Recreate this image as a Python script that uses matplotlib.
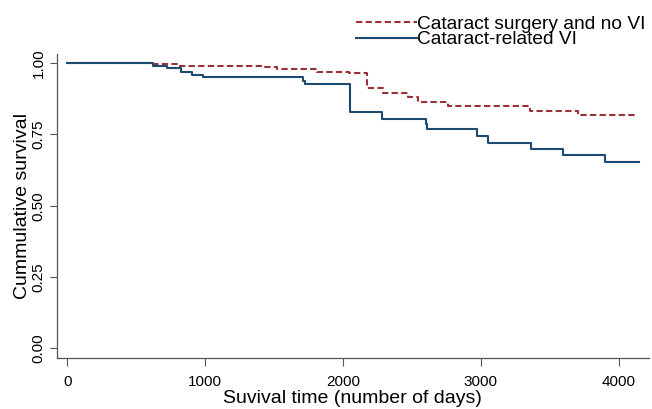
import matplotlib
matplotlib.use("Agg")
import matplotlib.pyplot as plt

# Data (Kaplan-Meier step curves)
t_surgery = [0, 615, 805, 1420, 1518, 1808, 2045, 2171, 2292, 2473, 2545, 2763, 3355, 3706, 4124]
s_surgery = [1.000, 0.997, 0.991, 0.985, 0.978, 0.970, 0.964, 0.912, 0.896, 0.882, 0.865, 0.850, 0.833, 0.817, 0.817]

t_vi = [0, 619, 721, 825, 902, 986, 1711, 1724, 2050, 2284, 2601, 2613, 2969, 3053, 3363, 3593, 3902, 4144]
s_vi = [1.000, 0.991, 0.982, 0.970, 0.959, 0.950, 0.937, 0.926, 0.830, 0.804, 0.786, 0.768, 0.746, 0.721, 0.699, 0.677, 0.652, 0.652]

label_surgery = "Cataract surgery and no VI"
label_vi = "Cataract-related VI"
xticks = [0, 1000, 2000, 3000, 4000]
yticks = [0.00, 0.25, 0.50, 0.75, 1.00]
ytick_labels = ["0.00", "0.25", "0.50", "0.75", "1.00"]

plt.rcParams['font.family'] = ['Liberation Sans', 'DejaVu Sans']

fig = plt.figure(figsize=(6.52, 4.09), dpi=100)
ax = fig.add_axes([0.0867, 0.124, 0.9083, 0.744])

red = "#9a3038"
blue = "#1d4a73"

l1, = ax.step(t_surgery, s_surgery, where='post', color=red, lw=1.5, dashes=(3, 1.6))
l2, = ax.step(t_vi, s_vi, where='post', color=blue, lw=1.5)

ax.set_xlim(-78, 4218)
ax.set_ylim(-0.035, 1.032)
ax.set_xticks(xticks)
ax.set_yticks(yticks)
ax.set_yticklabels(ytick_labels, rotation=90, va='center')
ax.tick_params(axis='x', length=6, width=0.8, color='#555555', labelsize=11, pad=6)
ax.tick_params(axis='y', length=5, width=0.8, color='#555555', labelsize=11, pad=3)
for sp in ['top', 'right']:
    ax.spines[sp].set_visible(False)
for sp in ['left', 'bottom']:
    ax.spines[sp].set_color('#555555')
    ax.spines[sp].set_linewidth(0.9)

ax.set_xlabel("Suvival time (number of days)", fontsize=14, labelpad=1)
ax.set_ylabel("Cummulative survival", fontsize=14, labelpad=0)

fig.legend([l1, l2], [label_surgery, label_vi], loc='upper right',
           bbox_to_anchor=(1.014, 1.0), frameon=False, fontsize=13.8,
           handlelength=3.2, handletextpad=0.0, labelspacing=-0.1,
           borderaxespad=0.4)

fig.savefig("out.png", dpi=100)
